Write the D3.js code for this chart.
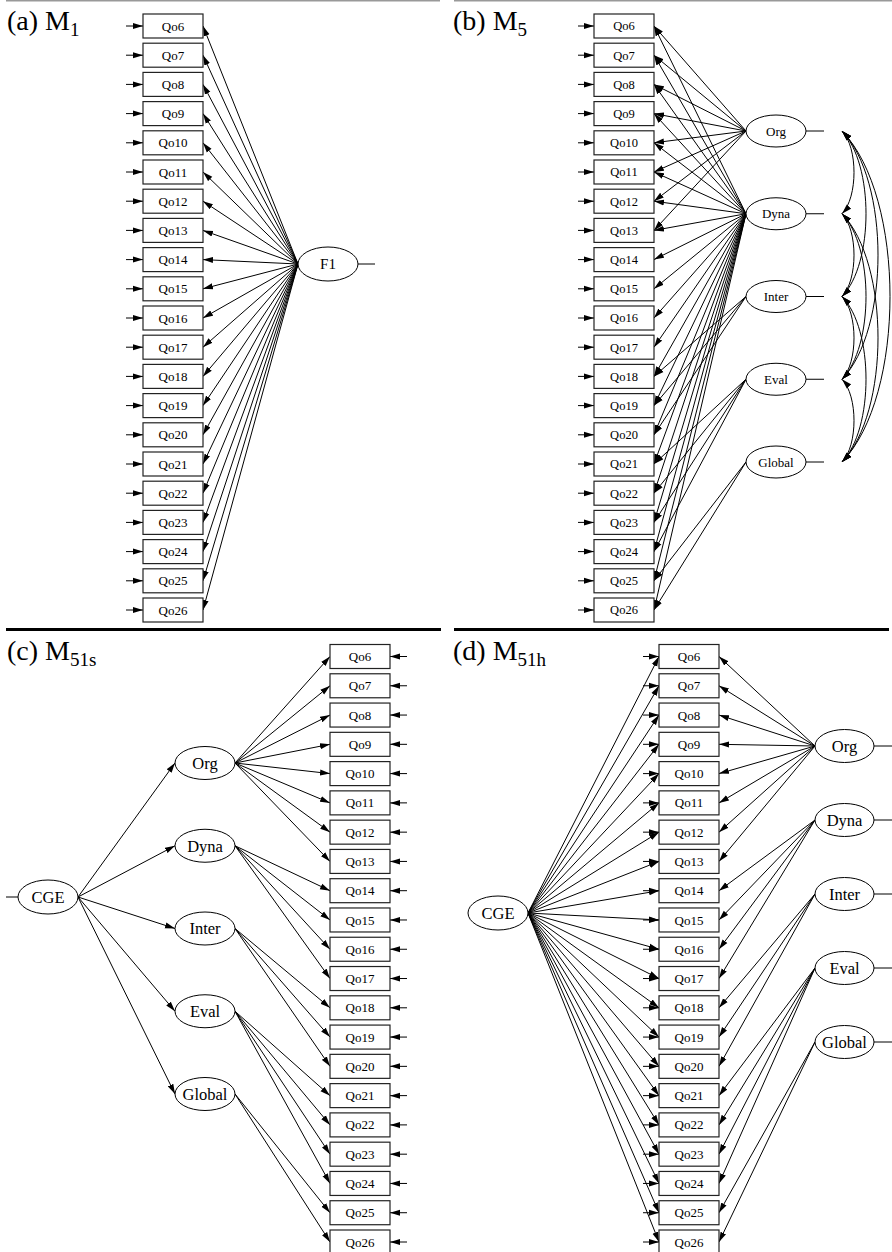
<!DOCTYPE html>
<html>
<head>
<meta charset="utf-8">
<script src="https://cdn.jsdelivr.net/npm/d3@7"></script>
<style>
  body { margin: 0; background: #fff; }
</style>
</head>
<body>
<script>
// Observed indicators
var items = ["Qo6", "Qo7", "Qo8", "Qo9", "Qo10", "Qo11", "Qo12", "Qo13", "Qo14", "Qo15", "Qo16",
             "Qo17", "Qo18", "Qo19", "Qo20", "Qo21", "Qo22", "Qo23", "Qo24", "Qo25", "Qo26"];
// First order factors
var factors = ["Org", "Dyna", "Inter", "Eval", "Global"];
// Which factor each item belongs to (same order as items)
var itemFactor = ["Org", "Org", "Org", "Org", "Org", "Org", "Org", "Org",
                  "Dyna", "Dyna", "Dyna", "Dyna",
                  "Inter", "Inter", "Inter",
                  "Eval", "Eval", "Eval", "Eval",
                  "Global", "Global"];
// In M5 the Dyna factor is drawn towards every item as well
var crossFactor = "Dyna";
var singleFactor = "F1";
var generalFactor = "CGE";
var panelLetters = ["(a)", "(b)", "(c)", "(d)"];
var panelSubs = ["1", "5", "51s", "51h"];

var W = 892, H = 1252;
var boxW = 60, boxH = 24;
var serif = "Liberation Serif";

var svg = d3.select("body").append("svg")
    .attr("width", W)
    .attr("height", H);

var defs = svg.append("defs");
defs.append("marker")
    .attr("id", "head")
    .attr("markerUnits", "userSpaceOnUse")
    .attr("markerWidth", 10)
    .attr("markerHeight", 7)
    .attr("refX", 10)
    .attr("refY", 3.5)
    .attr("orient", "auto-start-reverse")
  .append("path")
    .attr("d", "M0,0.5 L10,3.5 L0,6.5 Z")
    .attr("fill", "#000");

function arrow(g, x1, y1, x2, y2) {
    return g.append("line")
        .attr("x1", x1).attr("y1", y1)
        .attr("x2", x2).attr("y2", y2)
        .attr("stroke", "#000")
        .attr("stroke-width", 1)
        .attr("marker-end", "url(#head)");
}

function plain(g, x1, y1, x2, y2, colour) {
    return g.append("line")
        .attr("x1", x1).attr("y1", y1)
        .attr("x2", x2).attr("y2", y2)
        .attr("stroke", colour || "#000")
        .attr("stroke-width", 1);
}

function boxes(g, x, y, fontSize) {
    items.forEach(function(it) {
        g.append("rect")
          .attr("x", x).attr("y", y(it) - boxH / 2)
          .attr("width", boxW).attr("height", boxH)
          .attr("fill", "#fff")
          .attr("stroke", "#222")
          .attr("stroke-width", 1.2);
        g.append("text")
          .attr("x", x + boxW / 2).attr("y", y(it))
          .attr("dy", "0.35em")
          .attr("text-anchor", "middle")
          .style("font-family", serif)
          .style("font-size", fontSize + "px")
          .text(it);
    });
}

function latent(g, cx, cy, rx, ry, label, fontSize) {
    g.append("ellipse")
      .attr("cx", cx).attr("cy", cy)
      .attr("rx", rx).attr("ry", ry)
      .attr("fill", "#fff")
      .attr("stroke", "#000")
      .attr("stroke-width", 1);
    g.append("text")
      .attr("x", cx).attr("y", cy)
      .attr("dy", "0.35em")
      .attr("text-anchor", "middle")
      .style("font-family", serif)
      .style("font-size", fontSize + "px")
      .text(label);
}

function title(i, x, y) {
    var t = svg.append("text")
        .attr("x", x).attr("y", y)
        .style("font-family", serif)
        .style("font-size", "28px");
    t.append("tspan").text(panelLetters[i] + " M");
    t.append("tspan")
        .style("font-size", "19px")
        .attr("dy", 6)
        .text(panelSubs[i]);
}

// Separators
plain(svg, 6, 0.75, 440, 0.75, "#999").attr("stroke-width", 1.5);
plain(svg, 454, 0.75, 892, 0.75, "#999").attr("stroke-width", 1.5);
plain(svg, 6, 629.5, 441, 629.5).attr("stroke-width", 3);
plain(svg, 454, 629.5, 889, 629.5).attr("stroke-width", 3);

var yTop = d3.scalePoint().domain(items).range([26, 610]);
var yBot = d3.scalePoint().domain(items).range([656.5, 1242]);

// ---------- (a) M1 ----------
(function() {
    var g = svg.append("g");
    var bx = 143, fx = 328, fy = 264, rx = 30;
    items.forEach(function(it) {
        arrow(g, bx - 17, yTop(it), bx, yTop(it));
        arrow(g, fx - rx, fy, bx + boxW, yTop(it));
    });
    boxes(g, bx, yTop, 13);
    latent(g, fx, fy, rx, 17, singleFactor, 15);
    plain(g, fx + rx, fy, fx + rx + 17, fy);
    title(0, 7, 30);
})();

// ---------- (b) M5 ----------
(function() {
    var g = svg.append("g");
    var bx = 594, fx = 776, rx = 30, px = 842;
    var yf = d3.scalePoint().domain(factors).range([131, 462]);
    items.forEach(function(it, i) {
        arrow(g, bx - 16, yTop(it), bx, yTop(it));
        arrow(g, fx - rx, yf(itemFactor[i]), bx + boxW, yTop(it));
        if (itemFactor[i] != crossFactor)
            arrow(g, fx - rx, yf(crossFactor), bx + boxW, yTop(it));
    });
    // Factor covariances
    for (var i = 0; i < factors.length; i++) {
        for (var j = i + 1; j < factors.length; j++) {
            var y1 = yf(factors[i]), y2 = yf(factors[j]);
            var c = 16 * (j - i), dy = y2 - y1;
            g.append("path")
              .attr("d", "M" + px + "," + y1 +
                         " C" + (px + c) + "," + (y1 + dy * 0.2) +
                         " " + (px + c) + "," + (y2 - dy * 0.2) +
                         " " + px + "," + y2)
              .attr("fill", "none")
              .attr("stroke", "#000")
              .attr("stroke-width", 1)
              .attr("marker-start", "url(#head)")
              .attr("marker-end", "url(#head)");
        }
    }
    boxes(g, bx, yTop, 12.5);
    factors.forEach(function(f) {
        latent(g, fx, yf(f), rx, 16, f, 13);
        plain(g, fx + rx, yf(f), fx + rx + 18, yf(f));
    });
    title(1, 453, 30);
})();

// ---------- (c) M51s ----------
(function() {
    var g = svg.append("g");
    var bx = 330, fx = 205, rx = 30, gx = 48, gy = 897;
    var yf = d3.scalePoint().domain(factors).range([763, 1094]);
    items.forEach(function(it, i) {
        arrow(g, bx + boxW + 17, yBot(it), bx + boxW, yBot(it));
        arrow(g, fx + rx, yf(itemFactor[i]), bx, yBot(it));
    });
    factors.forEach(function(f) {
        arrow(g, gx + rx, gy, fx - rx, yf(f));
    });
    boxes(g, bx, yBot, 13);
    factors.forEach(function(f) {
        latent(g, fx, yf(f), rx, 16.5, f, 16.5);
    });
    latent(g, gx, gy, rx, 17, generalFactor, 16.5);
    plain(g, gx - rx, gy, gx - rx - 12, gy);
    title(2, 7, 660);
})();

// ---------- (d) M51h ----------
(function() {
    var g = svg.append("g");
    var bx = 659, fx = 844.5, rx = 29.5, gx = 498, gy = 913;
    var yf = d3.scalePoint().domain(factors).range([746, 1042]);
    items.forEach(function(it, i) {
        arrow(g, bx - 16, yBot(it), bx, yBot(it));
        arrow(g, gx + 30, gy, bx, yBot(it));
        arrow(g, fx - rx, yf(itemFactor[i]), bx + boxW, yBot(it));
    });
    boxes(g, bx, yBot, 13);
    factors.forEach(function(f) {
        latent(g, fx, yf(f), rx, 16.5, f, 16.5);
        plain(g, fx + rx, yf(f), W, yf(f));
    });
    latent(g, gx, gy, 30, 17, generalFactor, 16.5);
    title(3, 453, 660);
})();
</script>
</body>
</html>
